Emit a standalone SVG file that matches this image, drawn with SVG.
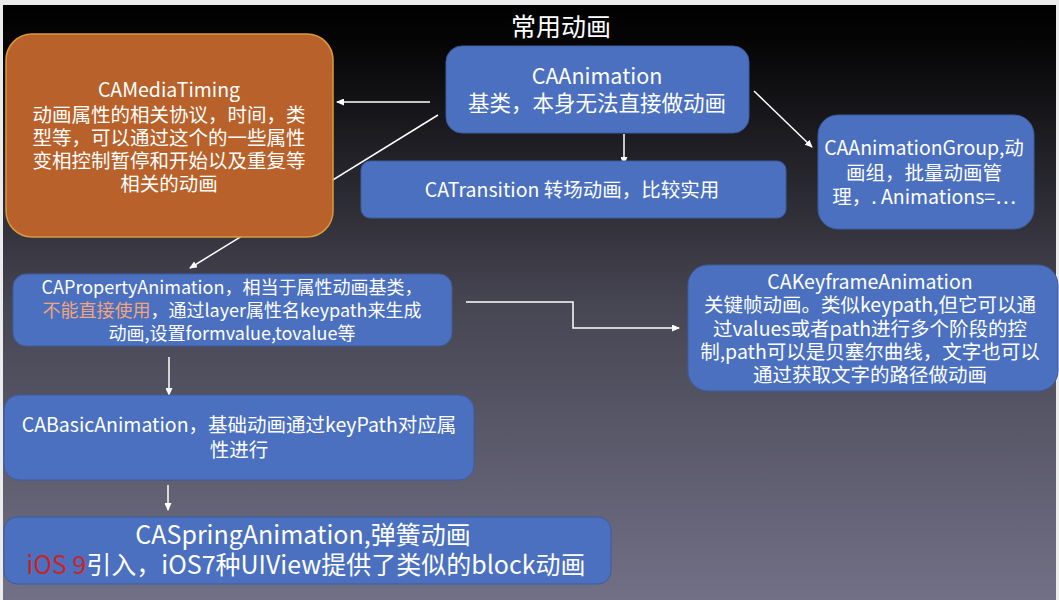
<svg xmlns="http://www.w3.org/2000/svg" width="1059" height="600" viewBox="0 0 1059 600">
<defs>
<linearGradient id="bg" x1="0" y1="5" x2="0" y2="600" gradientUnits="userSpaceOnUse">
<stop offset="0" stop-color="#000000"/>
<stop offset="0.07" stop-color="#060607"/>
<stop offset="0.5" stop-color="#464552"/>
<stop offset="1" stop-color="#727086"/>
</linearGradient>
<marker id="ah" markerWidth="8" markerHeight="7" refX="7" refY="3.5" orient="auto" markerUnits="userSpaceOnUse">
<path d="M0,0 L8,3.5 L0,7 Z" fill="#ffffff"/>
</marker>
<style>
.blue{fill:#4a70bf;stroke:#3d5d9e;stroke-width:1}
.orange{fill:#b8612a;stroke:#d99a3c;stroke-width:1.5}
text{font-family:"Noto Sans CJK SC","Noto Sans",sans-serif;fill:#ffffff;text-anchor:middle}
.t19{font-size:19.5px}
.t18{font-size:18px}
.t21{font-size:21.5px}
.t25{font-size:25px}
.conn{stroke:#ffffff;stroke-width:1.5;fill:none;marker-end:url(#ah)}
.red{fill:#cc2424}
.peach{fill:#f1a57c}
</style>
</defs>
<rect x="0" y="0" width="1059" height="600" fill="#ececec"/>
<rect x="3" y="5" width="1053" height="595" fill="url(#bg)"/>

<g id="title">
<text x="561" y="35.5" class="t25">常用动画</text>
</g>

<g id="connectors">
<line class="conn" x1="430" y1="102" x2="337" y2="102"/>
<line class="conn" x1="624" y1="134" x2="624" y2="164"/>
<line class="conn" x1="438" y1="115" x2="190" y2="268"/>
<line class="conn" x1="754" y1="91" x2="812" y2="147"/>
<path class="conn" d="M466,302 H573 V328 H679"/>
<line class="conn" x1="169" y1="357" x2="169" y2="395"/>
<line class="conn" x1="168" y1="485" x2="168" y2="510"/>
</g>

<g id="CAMediaTiming">
<rect class="orange" x="6" y="34" width="327" height="203" rx="26"/>
<text class="t19" x="169" y="97">CAMediaTiming</text>
<text class="t19" x="169" y="122">动画属性的相关协议，时间，类</text>
<text class="t19" x="169" y="144.5">型等，可以通过这个的一些属性</text>
<text class="t19" x="169" y="167.5">变相控制暂停和开始以及重复等</text>
<text class="t19" x="169" y="191">相关的动画</text>
</g>

<g id="CAAnimation">
<rect class="blue" x="446" y="46" width="303" height="87" rx="16"/>
<text class="t21" x="597" y="84">CAAnimation</text>
<text class="t21" x="597" y="111">基类，本身无法直接做动画</text>
</g>

<g id="CATransition">
<rect class="blue" x="361" y="161" width="425" height="57" rx="9"/>
<text class="t19" x="572" y="197">CATransition 转场动画，比较实用</text>
</g>

<g id="CAAnimationGroup">
<rect class="blue" x="818" y="115" width="216" height="114" rx="20"/>
<text class="t19" x="924" y="155">CAAnimationGroup,动</text>
<text class="t19" x="924" y="180">画组，批量动画管</text>
<text class="t19" x="924" y="204">理，. Animations=⋯</text>
</g>

<g id="CAPropertyAnimation">
<rect class="blue" x="13" y="274" width="439" height="72" rx="13"/>
<text class="t18" x="232" y="293.5">CAPropertyAnimation，相当于属性动画基类，</text>
<text class="t18" x="232" y="316.5"><tspan class="peach">不能直接使用</tspan>，通过layer属性名keypath来生成</text>
<text class="t18" x="232" y="339.5">动画,设置formvalue,tovalue等</text>
</g>

<g id="CAKeyframeAnimation">
<rect class="blue" x="688" y="265" width="370" height="126" rx="20"/>
<text class="t19" x="870" y="289">CAKeyframeAnimation</text>
<text class="t19" x="870" y="312">关键帧动画。类似keypath,但它可以通</text>
<text class="t19" x="870" y="335.5">过values或者path进行多个阶段的控</text>
<text class="t19" x="870" y="359">制,path可以是贝塞尔曲线，文字也可以</text>
<text class="t19" x="870" y="382">通过获取文字的路径做动画</text>
</g>

<g id="CABasicAnimation">
<rect class="blue" x="4" y="395" width="470" height="85" rx="15"/>
<text class="t19" x="239" y="432">CABasicAnimation，基础动画通过keyPath对应属</text>
<text class="t19" x="239" y="457">性进行</text>
</g>

<g id="CASpringAnimation">
<rect class="blue" x="4" y="517" width="607" height="67" rx="13"/>
<text class="t25" x="303" y="544">CASpringAnimation,弹簧动画</text>
<text class="t25" x="306" y="574"><tspan class="red">iOS 9</tspan>引入，iOS7种UIView提供了类似的block动画</text>
</g>
</svg>
